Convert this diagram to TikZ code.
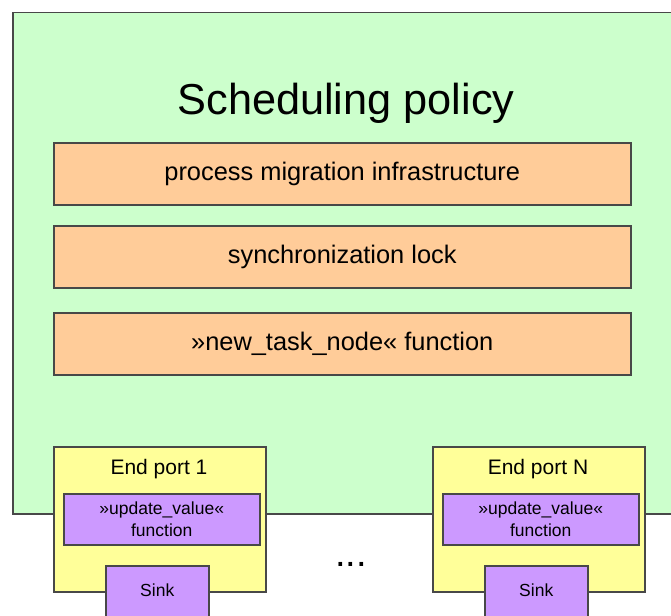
\documentclass[tikz,border=0pt]{standalone}
\usepackage{fontspec}
\setmainfont{Liberation Sans}
\definecolor{bgreen}{HTML}{CCFFCC}
\definecolor{borange}{HTML}{FFCC99}
\definecolor{byellow}{HTML}{FFFF99}
\definecolor{bpurple}{HTML}{CC99FF}
\definecolor{bline}{HTML}{484848}
\begin{document}
\begin{tikzpicture}[x=1pt,y=-1pt,
  box/.style={draw=bline, line width=1.5pt, anchor=north west, inner sep=0pt, align=center},
  greenbox/.style={box, fill=bgreen},
  orangebox/.style={box, fill=borange, minimum width=577pt, minimum height=62pt, font=\fontsize{25.4}{30}\selectfont},
  yellowbox/.style={box, fill=byellow, minimum width=212pt, minimum height=145pt},
  purplebox/.style={box, fill=bpurple, minimum width=196pt, minimum height=51pt, font=\fontsize{17.5}{22}\selectfont},
  sinkbox/.style={box, fill=bpurple, minimum width=103pt, text height=31pt, text depth=40pt, font=\fontsize{17.5}{22}\selectfont},
  lbl/.style={anchor=base, inner sep=0pt}
]
\useasboundingbox (0,0) rectangle (671,615);
\clip (0,0) rectangle (671,615);
\fill[white] (0,0) rectangle (671,615);

\node[greenbox, minimum width=678pt, minimum height=501pt] (policy) at (12,12) {};
\node[lbl, font=\fontsize{43.3}{50}\selectfont] (title) at (346,114) {Scheduling policy};

\node[orangebox] (migr) at (53,142) {process migration infrastructure};
\node[orangebox] (lock) at (53,225) {synchronization lock};
\node[orangebox] (ntn) at (53,312) {»new\_task\_node« function};

\node[yellowbox] (port1) at (53,446) {};
\node[lbl, font=\fontsize{21}{25}\selectfont] (port1lbl) at (159,474) {End port 1};
\node[purplebox] (upd1) at (63,493) {»update\_value«\\function};
\node[sinkbox] (sink1) at (105,565) {Sink};

\node[yellowbox] (portN) at (432,446) {};
\node[lbl, font=\fontsize{21}{25}\selectfont] (portNlbl) at (538,474) {End port N};
\node[purplebox] (updN) at (442,493) {»update\_value«\\function};
\node[sinkbox] (sinkN) at (484,565) {Sink};

\node[lbl, font=\fontsize{38}{40}\selectfont] (dots) at (351,566) {...};
\end{tikzpicture}
\end{document}
